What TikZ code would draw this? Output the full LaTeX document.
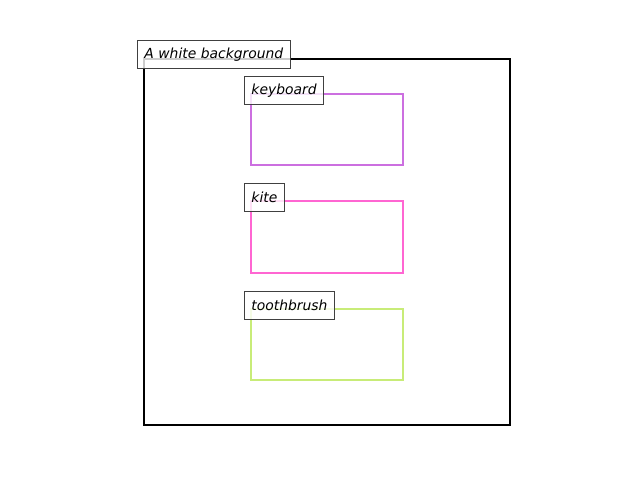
\documentclass[tikz,border=0pt]{standalone}
\usepackage{fontspec}
\setmainfont{DejaVu Sans}
\begin{document}
\begin{tikzpicture}[x=0.72pt,y=-0.72pt,
  region/.style={line width=1.6pt},
  tag/.style={draw=black!75, line width=0.75pt, fill=white, fill opacity=0.8,
    text opacity=1, anchor=north west, inner xsep=5pt, inner ysep=0pt,
    minimum height=20.2pt, font=\itshape\fontsize{10}{12}\selectfont}]
  \definecolor{kbcol}{RGB}{204,111,224}
  \definecolor{kitecol}{RGB}{255,102,210}
  \definecolor{tbcol}{RGB}{200,236,120}
  \useasboundingbox (0,0) rectangle (640,480);
  % outer frame and object boxes
  \draw[region, black] (144,59) rectangle (510,425);
  \draw[region, kbcol] (251,94) rectangle (403,165);
  \draw[region, kitecol] (251,201) rectangle (403,273);
  \draw[region, tbcol] (251,309) rectangle (403,380);
  % captions
  \node[tag] (bg) at (137,40) {A white background};
  \node[tag] (kb) at (244,76) {keyboard};
  \node[tag] (kite) at (244,183) {kite};
  \node[tag] (tb) at (244,291) {toothbrush};
\end{tikzpicture}
\end{document}
